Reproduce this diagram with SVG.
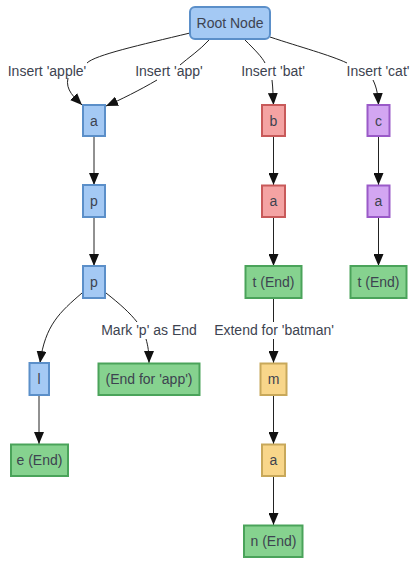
<svg xmlns="http://www.w3.org/2000/svg" width="418" height="565" viewBox="0 0 418 565">
<defs>
<marker id="ah" viewBox="0 0 12 10" refX="12" refY="5" markerWidth="12" markerHeight="10" markerUnits="userSpaceOnUse" orient="auto">
<path d="M0,0 L12,5 L0,10 z" fill="#111"/>
</marker>
</defs>
<style>
text{font-family:"Liberation Sans",Arial,sans-serif;font-size:14px;fill:#3d4350;text-anchor:middle;dominant-baseline:central}
.e{fill:none;stroke:#222;stroke-width:1}
.blue{fill:#a4c9f4;stroke:#5b8fc9;stroke-width:2}
.red{fill:#f4a3a3;stroke:#c85a5a;stroke-width:2}
.pur{fill:#d3a6f2;stroke:#9a5ac8;stroke-width:2}
.grn{fill:#86d28f;stroke:#4aa35a;stroke-width:2}
.org{fill:#f8d68a;stroke:#c8a85a;stroke-width:2}
.lbl{fill:#ffffff}
</style>
<g id="connectors">
<path class="e" d="M190,33 C140,45 95,55 87,63" />
<path class="e" d="M68,78 C65,90 75,98 82,105" marker-end="url(#ah)"/>
<path class="e" d="M209,40 C200,50 188,58 180,65" />
<path class="e" d="M157,80 C140,90 120,100 106,106" marker-end="url(#ah)"/>
<path class="e" d="M245,40 C255,50 262,57 265,63" />
<path class="e" d="M272,80 C273,88 273,96 273.5,105" marker-end="url(#ah)"/>
<path class="e" d="M270,37 C300,47 330,55 347,63" />
<path class="e" d="M373,80 C377,88 378,96 378.5,105" marker-end="url(#ah)"/>
<path class="e" d="M94,136 L94,185" marker-end="url(#ah)"/>
<path class="e" d="M94,217 L94,266" marker-end="url(#ah)"/>
<path class="e" d="M82,293 C60,312 45,325 40,363" marker-end="url(#ah)"/>
<path class="e" d="M106,293 C120,304 130,313 137,322" />
<path class="e" d="M146,339 C148,346 149,352 149,363" marker-end="url(#ah)"/>
<path class="e" d="M39,395 L39,444" marker-end="url(#ah)"/>
<path class="e" d="M273.5,136 L273.5,185" marker-end="url(#ah)"/>
<path class="e" d="M273.5,217 L273.5,266" marker-end="url(#ah)"/>
<path class="e" d="M273.5,298 L273.5,322" />
<path class="e" d="M273.5,339 L273.5,363" marker-end="url(#ah)"/>
<path class="e" d="M273.5,395 L273.5,444" marker-end="url(#ah)"/>
<path class="e" d="M273.5,476 L273.5,525" marker-end="url(#ah)"/>
<path class="e" d="M378.5,136 L378.5,185" marker-end="url(#ah)"/>
<path class="e" d="M378.5,217 L378.5,266" marker-end="url(#ah)"/>
<text x="47" y="71">Insert 'apple'</text>
<text x="169" y="71">Insert 'app'</text>
<text x="273" y="71">Insert 'bat'</text>
<text x="378" y="71">Insert 'cat'</text>
<text x="149" y="330">Mark 'p' as End</text>
<text x="274" y="330">Extend for 'batman'</text>
</g>
<g id="root"><rect class="blue" x="190" y="7" width="80" height="32" rx="5"/><text x="230" y="23">Root Node</text></g>
<g id="a1"><rect class="blue" x="83" y="105" width="22" height="31"/><text x="94" y="121">a</text></g>
<g id="p1"><rect class="blue" x="83" y="185" width="22" height="32"/><text x="94" y="201">p</text></g>
<g id="p2"><rect class="blue" x="83" y="266" width="22" height="32"/><text x="94" y="282">p</text></g>
<g id="l1"><rect class="blue" x="29.5" y="363" width="19.5" height="32"/><text x="39" y="379">l</text></g>
<g id="e1"><rect class="grn" x="11" y="444.5" width="57" height="31.5"/><text x="39.5" y="460">e (End)</text></g>
<g id="endapp"><rect class="grn" x="98.5" y="363.5" width="101" height="31.5"/><text x="149" y="379">(End for 'app')</text></g>
<g id="b1"><rect class="red" x="262" y="105" width="23" height="31"/><text x="273.5" y="121">b</text></g>
<g id="a2"><rect class="red" x="262" y="185.5" width="23" height="31.5"/><text x="273.5" y="201">a</text></g>
<g id="t1"><rect class="grn" x="245.5" y="266" width="56" height="32"/><text x="273.5" y="282">t (End)</text></g>
<g id="m1"><rect class="org" x="260.5" y="363.5" width="26" height="31.5"/><text x="273.5" y="379">m</text></g>
<g id="a4"><rect class="org" x="262" y="444.5" width="23" height="31.5"/><text x="273.5" y="460">a</text></g>
<g id="n1"><rect class="grn" x="244" y="525.5" width="58.5" height="31.5"/><text x="273.5" y="541">n (End)</text></g>
<g id="c1"><rect class="pur" x="367.5" y="105" width="22" height="31"/><text x="378.5" y="121">c</text></g>
<g id="a3"><rect class="pur" x="367.5" y="185.5" width="22" height="31.5"/><text x="378.5" y="201">a</text></g>
<g id="t2"><rect class="grn" x="350.5" y="266" width="56" height="32"/><text x="378.5" y="282">t (End)</text></g>
</svg>
